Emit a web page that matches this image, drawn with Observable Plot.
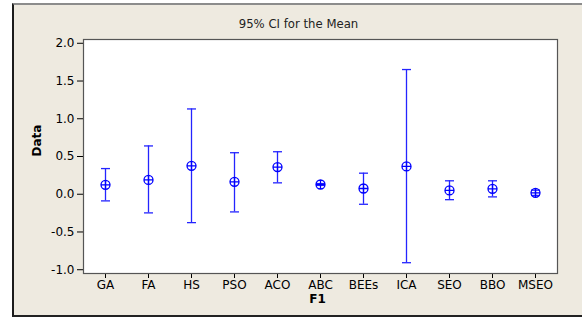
<!DOCTYPE html>
<html>
<head>
<meta charset="utf-8">
<script src="https://cdn.jsdelivr.net/npm/d3@7"></script>
<script src="https://cdn.jsdelivr.net/npm/@observablehq/plot@0.6"></script>
<style>
  html, body { margin: 0; padding: 0; background: #ffffff; }
  #bg { position: absolute; left: 12px; top: 3px; width: 600px; height: 314px; box-sizing: border-box;
        background: #eeeae0; border-left: 2px solid #1c1c1c; border-top: 2px solid #8c8c8c; border-bottom: 2px solid #222; }
  #chart { position: absolute; left: 0; top: 0; }
</style>
</head>
<body>
<div id="bg"></div>
<div id="chart"></div>
<script>
const categories = ["GA", "FA", "HS", "PSO", "ACO", "ABC", "BEEs", "ICA", "SEO", "BBO", "MSEO"];
const means = [0.125, 0.19, 0.377, 0.165, 0.36, 0.129, 0.076, 0.368, 0.051, 0.072, 0.019];
const lower = [-0.088, -0.247, -0.376, -0.234, 0.151, 0.117, -0.133, -0.907, -0.072, -0.035, -0.016];
const upper = [0.34, 0.64, 1.13, 0.55, 0.563, 0.141, 0.279, 1.652, 0.178, 0.178, 0.054];
const yTicks = [-1.0, -0.5, 0.0, 0.5, 1.0, 1.5, 2.0];
const titleText = "95% CI for the Mean";
const xLabel = "F1";
const yLabel = "Data";

const data = categories.map((c, i) => ({cat: c, mean: means[i], lo: lower[i], hi: upper[i]}));
const blue = "#2424ff";

const capSym = {
  draw(ctx, size) {
    const r = Math.sqrt(size / Math.PI);
    ctx.moveTo(-r, 0); ctx.lineTo(r, 0);
  }
};
const circlePlus = {
  draw(ctx, size) {
    const r = Math.sqrt(size / Math.PI);
    ctx.moveTo(r, 0); ctx.arc(0, 0, r, 0, 2 * Math.PI);
    ctx.moveTo(-r, 0); ctx.lineTo(r, 0);
    ctx.moveTo(0, -r); ctx.lineTo(0, r);
  }
};

const chart = Plot.plot({
  width: 582, height: 318,
  marginLeft: 83, marginRight: 25, marginTop: 39, marginBottom: 45,
  style: {background: "transparent", fontFamily: "'DejaVu Sans', Verdana, sans-serif", fontSize: "12px", color: "#000"},
  x: {type: "point", domain: categories, padding: 0.5, label: null},
  y: {domain: [-1.05, 2.05], label: null},
  marks: [
    Plot.frame({fill: "white", stroke: null}),
    Plot.axisX({tickSize: 5, tickPadding: 2, label: null, fontSize: 12}),
    Plot.axisY({ticks: yTicks, tickFormat: d => d.toFixed(1), tickSize: 6, tickPadding: 3, label: null, fontSize: 12}),
    Plot.ruleX(data, {x: "cat", y1: "lo", y2: "hi", stroke: blue, strokeWidth: 1.3}),
    Plot.dot(data, {x: "cat", y: "hi", symbol: capSym, r: 4.5, stroke: blue, strokeWidth: 1.3}),
    Plot.dot(data, {x: "cat", y: "lo", symbol: capSym, r: 4.5, stroke: blue, strokeWidth: 1.3}),
    Plot.dot(data, {x: "cat", y: "mean", symbol: circlePlus, r: 4.5, stroke: "#0000ff", fill: "none", strokeWidth: 1.3}),
    Plot.frame({stroke: "#555", strokeWidth: 1.2}),
    Plot.text([titleText], {frameAnchor: "top", dx: -22, dy: -15, lineAnchor: "middle", fontSize: 11.7, fill: "#222"}),
    Plot.text([xLabel], {frameAnchor: "bottom", dx: -3, dy: 26, lineAnchor: "middle", fontSize: 12, fontWeight: "bold"}),
    Plot.text([yLabel], {frameAnchor: "left", dx: -46, rotate: -90, lineAnchor: "middle", fontSize: 12, fontWeight: "bold"})
  ]
});
document.getElementById("chart").appendChild(chart);
</script>
</body>
</html>
